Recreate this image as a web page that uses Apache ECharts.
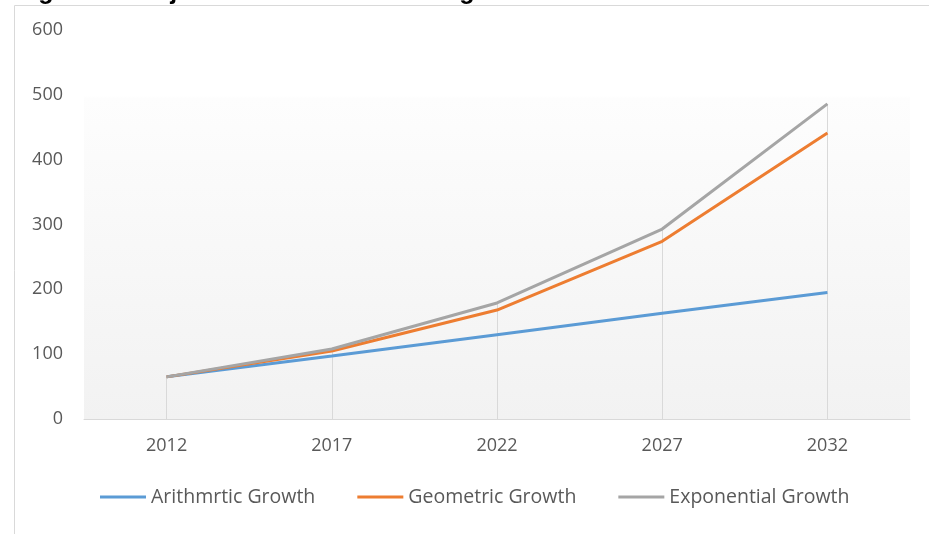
<!DOCTYPE html>
<html><head><meta charset="utf-8">
<script src="https://cdn.jsdelivr.net/npm/echarts@6/dist/echarts.min.js"></script>
<style>html,body{margin:0;padding:0;background:#fff}#c{width:929px;height:534px}</style>
</head><body><div id="c"></div>
<script>
const years = ['2012','2017','2022','2027','2032'];
const arithmetic = [65, 97, 130, 163, 195];
const geometric = [65, 105, 168, 274, 441];
const exponential = [65, 108, 179, 293, 486];
const seriesNames = ['Arithmrtic Growth','Geometric Growth','Exponential Growth'];
const yTicks = [0, 100, 200, 300, 400, 500, 600];
const titleText = 'Figure 1: Projected Growth Rate Using Three Methods';

const chart = echarts.init(document.getElementById('c'));
const font = '"Open Sans", "Noto Sans", sans-serif';
const lineS = (name, data, color) => ({
  name, type: 'line', data, symbol: 'none', smooth: false,
  lineStyle: {color, width: 3}, itemStyle: {color}
});
const drop = exponential.map((v, i) => [{coord: [i, 0]}, {coord: [i, v]}]);
const expS = lineS(seriesNames[2], exponential, '#A5A5A5');
expS.markLine = {silent: true, symbol: 'none', label: {show: false},
  lineStyle: {color: '#d9d9d9', width: 1, type: 'solid'}, data: drop, z: 1};

chart.setOption({
  animation: false,
  graphic: [
    {type: 'rect', shape: {x: 14.5, y: 5.5, width: 940, height: 560}, style: {fill: 'none', stroke: '#d9d9d9', lineWidth: 1}, z: -10},
    {type: 'text', x: 16, y: -20, style: {text: titleText, font: 'bold 25px "Liberation Sans", sans-serif', fill: '#000', verticalAlign: 'top'}}
  ],
  grid: {left: 84, right: 19, top: 30, bottom: 115, show: true, borderWidth: 0,
    backgroundColor: {type: 'linear', x: 0, y: 0, x2: 0, y2: 1, colorStops: [
      {offset: 0, color: '#ffffff'}, {offset: 0.17, color: '#ffffff'}, {offset: 0.175, color: '#fdfdfd'}, {offset: 1, color: '#f2f2f2'}]}},
  legend: {bottom: 22, left: 95, itemWidth: 46, itemHeight: 3, itemGap: 42,
    icon: 'rect', textStyle: {color: '#595959', fontSize: 19.5, fontFamily: font, padding: [0,0,0,0]},
    data: seriesNames},
  xAxis: {type: 'category', data: years, boundaryGap: true,
    axisLine: {lineStyle: {color: '#d9d9d9', width: 1}}, axisTick: {show: false},
    axisLabel: {color: '#595959', fontSize: 18, fontFamily: font, margin: 18},
    splitLine: {show: false}},
  yAxis: {type: 'value', min: yTicks[0], max: yTicks[yTicks.length-1], interval: 100,
    axisLine: {show: false}, axisTick: {show: false}, splitLine: {show: false},
    axisLabel: {color: '#595959', fontSize: 18, fontFamily: font, margin: 21}},
  series: [
    lineS(seriesNames[0], arithmetic, '#5B9BD5'),
    lineS(seriesNames[1], geometric, '#ED7D31'),
    expS
  ]
});
</script></body></html>
